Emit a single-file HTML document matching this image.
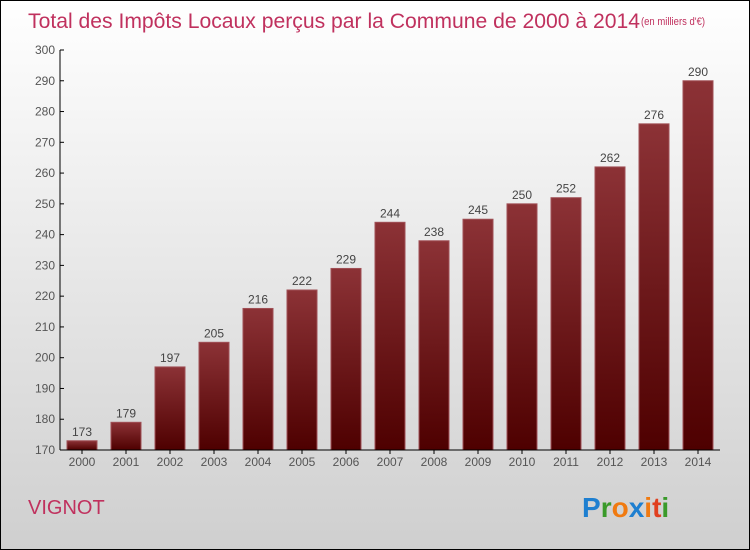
<!DOCTYPE html>
<html><head><meta charset="utf-8"><style>
body{margin:0}
svg{display:block;font-family:"Liberation Sans",sans-serif}
</style></head><body>
<svg id="c" width="750" height="550">
<defs>
<linearGradient id="bg" x1="0" y1="0" x2="0" y2="1"><stop offset="0" stop-color="#ffffff"/><stop offset="1" stop-color="#cfcfcf"/></linearGradient>
<linearGradient id="bar" x1="0" y1="0" x2="0" y2="1"><stop offset="0" stop-color="#8c3236"/><stop offset="1" stop-color="#4e0000"/></linearGradient>
</defs>
<rect x="0.5" y="0.5" width="749" height="549" fill="url(#bg)" stroke="#000"/>
<text x="28" y="28" font-size="21" fill="#c0315e" textLength="612" lengthAdjust="spacingAndGlyphs">Total des Impôts Locaux perçus par la Commune de 2000 à 2014</text>
<text x="641" y="25" font-size="11" fill="#c0315e" textLength="64" lengthAdjust="spacingAndGlyphs">(en milliers d'€)</text>
<text x="28" y="514" font-size="20" fill="#c0315e">VIGNOT</text>
<g font-size="28" font-weight="bold" font-family="'Liberation Sans',sans-serif">
<text x="582" y="517"><tspan fill="#1e7fd0">P</tspan><tspan fill="#3a9a2a">r</tspan><tspan fill="#f07a10">o</tspan><tspan fill="#1e7fd0">x</tspan><tspan fill="#f07a10">i</tspan><tspan fill="#e04020">t</tspan><tspan fill="#3a9a2a">i</tspan></text>
</g>
<g id="plot"></g>
</svg>
<script>
const years=["2000","2001","2002","2003","2004","2005","2006","2007","2008","2009","2010","2011","2012","2013","2014"];
const values=[173,179,197,205,216,222,229,244,238,245,250,252,262,276,290];
const yTicks=[170,180,190,200,210,220,230,240,250,260,270,280,290,300];
const NS="http://www.w3.org/2000/svg";
const g=document.getElementById('plot');
const x0=60,x1=720,yTop=50,yBot=450,vMin=170,vMax=300;
const y=v=>yBot-(v-vMin)/(vMax-vMin)*(yBot-yTop);
const cx=i=>82+i*44;
function el(t,a){const e=document.createElementNS(NS,t);for(const k in a)e.setAttribute(k,a[k]);g.appendChild(e);return e;}
years.forEach((yr,i)=>{
 const r=el('rect',{x:cx(i)-15,y:y(values[i]),width:30,height:yBot-y(values[i]),fill:'url(#bar)',stroke:'#a05056','stroke-width':1});
 
 
 const t=el('text',{x:cx(i),y:y(values[i])-5,'text-anchor':'middle','font-size':12,fill:'#444'});
 t.textContent=values[i];
 
 
 const xl=el('text',{x:cx(i),y:yBot+16,'text-anchor':'middle','font-size':12,fill:'#555'});
 xl.textContent=yr;
 
 
 const tk=el('line',{x1:cx(i),x2:cx(i),y1:yBot,y2:yBot+4,stroke:'#000'});
 
 
});
yTicks.forEach(v=>{
 const t=el('text',{x:x0-5,y:y(v)+4,'text-anchor':'end','font-size':12,fill:'#555'});
 t.textContent=v;
 
 
 const l=el('line',{x1:x0,x2:x0+4,y1:y(v),y2:y(v),stroke:'#000'});
 
 
});
const ya=el('line',{x1:x0,x2:x0,y1:yTop,y2:yBot,stroke:'#000'});


const xa=el('line',{x1:x0,x2:x1,y1:yBot,y2:yBot,stroke:'#000'});


</script>
</body></html>
